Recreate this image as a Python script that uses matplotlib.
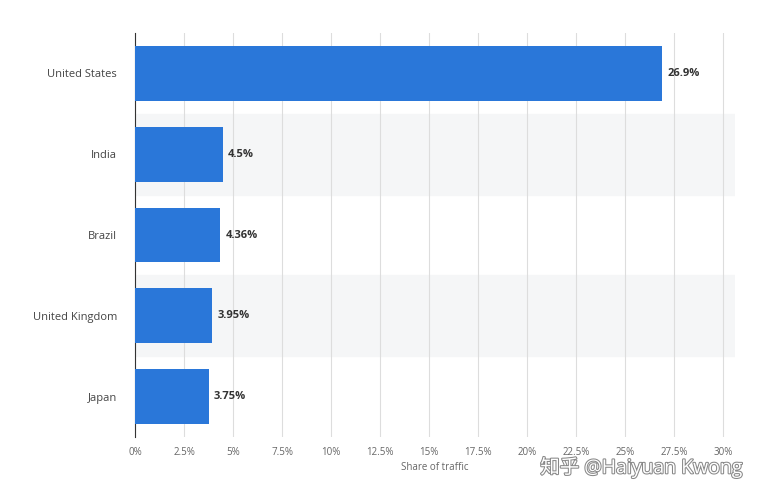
import matplotlib
matplotlib.use("Agg")
import matplotlib.pyplot as plt
import matplotlib.patheffects as pe

countries = ["United States", "India", "Brazil", "United Kingdom", "Japan"]
shares = [26.9, 4.5, 4.36, 3.95, 3.75]
labels = ["26.9%", "4.5%", "4.36%", "3.95%", "3.75%"]
ticks = [0, 2.5, 5, 7.5, 10, 12.5, 15, 17.5, 20, 22.5, 25, 27.5, 30]
tick_labels = ["0%", "2.5%", "5%", "7.5%", "10%", "12.5%", "15%", "17.5%", "20%", "22.5%", "25%", "27.5%", "30%"]

plt.rcParams['font.family'] = ['Open Sans', 'Noto Sans CJK SC']
fig = plt.figure(figsize=(7.62, 5.0), dpi=100)
ax = fig.add_axes([135/762, 1-437/500, 600/762, (437-33)/500])
y = list(range(len(countries)))
for i in y:
    if i % 2 == 1:
        ax.axhspan(i-0.5, i+0.5, color="#f5f6f7", zorder=0)
ax.barh(y, shares, height=0.68, color="#2a77d9", zorder=3)
for i, (v, l) in enumerate(zip(shares, labels)):
    ax.text(v + 0.25, i, l, va="center", ha="left", fontsize=8, fontweight="bold", color="#333333", zorder=4)
ax.set_ylim(len(countries)-0.5, -0.5)
ax.set_xlim(0, 30.6)
ax.set_xticks(ticks)
ax.set_xticklabels(tick_labels, fontsize=7, color="#666666")
ax.set_yticks(y)
ax.set_yticklabels(countries, fontsize=8, color="#444444")
ax.tick_params(axis="x", length=0, pad=7)
ax.tick_params(axis="y", length=0, pad=13)
ax.grid(axis="x", color="#dddddd", linewidth=0.8, zorder=1)
for s in ["top", "right", "bottom"]:
    ax.spines[s].set_visible(False)
ax.spines["left"].set_color("#333333")
ax.set_xlabel("Share of traffic", fontsize=7, color="#666666", labelpad=3)
fig.text(0.975, 0.066, "知乎 @Haiyuan Kwong", ha="right", va="center", fontsize=14, color="white",
         path_effects=[pe.withStroke(linewidth=1.5, foreground="#888888")])
fig.savefig("out.png", dpi=100)
